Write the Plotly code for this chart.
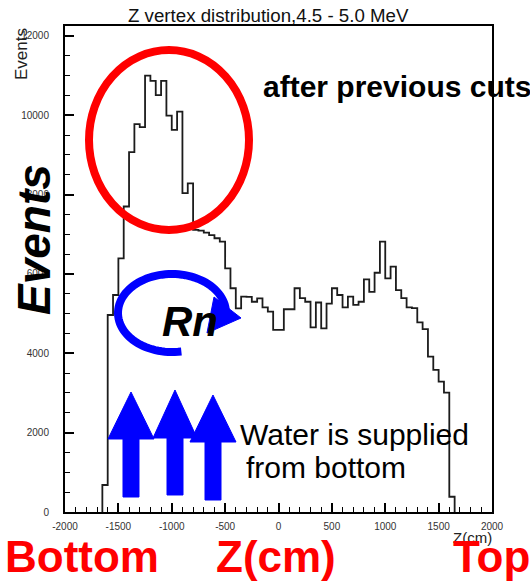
import numpy as np
import plotly.graph_objects as go

# Z vertex histogram, 4.5 - 5.0 MeV, 50 cm bins starting at z = -1650 cm
bin_start = -1650
bin_width = 50
counts = [680, 4965, 5470, 6395, 7700, 9070, 9775, 9700, 11000, 10865,
          10510, 10865, 9990, 9630, 10090, 8035, 8285, 7110, 7090, 7040,
          6980, 6900, 6815, 6140, 5640, 5135, 5430, 5420, 5300, 5385,
          5160, 5050, 4590, 4590, 5110, 5110, 5640, 5390, 5300, 4655,
          5280, 4630, 5250, 5640, 5470, 5160, 5430, 5220, 5300, 5865,
          5550, 6030, 6815, 5890, 6185, 5595, 5390, 5160, 5140, 4780,
          4610, 3915, 3580, 3285, 3010, 385]

x_ticks = [-2000, -1500, -1000, -500, 0, 500, 1000, 1500, 2000]
y_ticks = [0, 2000, 4000, 6000, 8000, 10000, 12000]

title_text = "Z vertex distribution,4.5 - 5.0 MeV"
x_title = "Z(cm)"
y_title = "Events"

# step outline of the histogram
edges = bin_start + bin_width * np.arange(len(counts) + 1)
hx = [edges[0]] + list(edges[:-1]) + [edges[-1], edges[-1]]
hy = [0] + counts + [counts[-1], 0]

W, H = 530, 582
L, R, T, B = 65, 492, 26, 512  # plot frame in pixels

def P(px, py):
    """pixel position -> paper coordinates"""
    return (px - L) / (R - L), (B - py) / (B - T)

def path(points, close=True):
    s = ""
    for i, (px, py) in enumerate(points):
        u, v = P(px, py)
        s += ("M" if i == 0 else "L") + f"{u:.5f},{v:.5f} "
    return s + ("Z" if close else "")

FONT = "Liberation Sans, Arial, Helvetica, sans-serif"

fig = go.Figure()
fig.add_trace(go.Scatter(
    x=hx, y=hy, mode="lines", line_shape="hv",
    line=dict(color="#1c1c1c", width=1.8), hoverinfo="skip", showlegend=False))

shapes = []
# red ellipse around the peak
x0, y0 = P(89, 230)
x1, y1 = P(249, 50)
shapes.append(dict(type="circle", xref="paper", yref="paper",
                   x0=x0, y0=y0, x1=x1, y1=y1,
                   line=dict(color="#ff0000", width=8), layer="above"))

# blue circulation arrow around "Rn"
cx, cy, rx, ry = 172, 313, 54, 39
t = np.radians(np.linspace(80, 358, 80))
arc = list(zip(cx + rx * np.cos(t), cy + ry * np.sin(t)))
shapes.append(dict(type="path", xref="paper", yref="paper", path=path(arc, close=False),
                   line=dict(color="#0000ff", width=8), layer="above"))
shapes.append(dict(type="path", xref="paper", yref="paper",
                   path=path([(214, 297), (241, 318), (207, 333)]),
                   fillcolor="#0000ff", line=dict(color="#0000ff", width=1), layer="above"))

# three upward arrows (water inflow)
for ax, ay, half_head, half_shaft, base_y, bot_y in [
        (131, 392, 23, 8, 439, 497),
        (175, 390, 22, 8, 438, 495),
        (213, 395, 23, 8, 442, 500)]:
    pts = [(ax, ay), (ax + half_head, base_y), (ax + half_shaft, base_y),
           (ax + half_shaft, bot_y), (ax - half_shaft, bot_y),
           (ax - half_shaft, base_y), (ax - half_head, base_y)]
    shapes.append(dict(type="path", xref="paper", yref="paper", path=path(pts),
                       fillcolor="#0000ff", line=dict(color="#0000ff", width=1),
                       layer="above"))

annotations = []

def note(text, px, py, size, color="black", xanchor="center", angle=0, yanchor="middle"):
    u, v = P(px, py)
    annotations.append(dict(text=text, x=u, y=v, xref="paper", yref="paper",
                            xanchor=xanchor, yanchor=yanchor, showarrow=False,
                            textangle=angle,
                            font=dict(family=FONT, size=size, color=color)))

note(title_text, 268, 15, 18.7, color="#111")
note(y_title, 22, 54, 17, color="#222", angle=-90)
note(x_title, 494, 537, 15, color="#222", xanchor="right")
note("<b>after previous cuts</b>", 261, 86, 30, xanchor="left")
note("<b><i>Events</i></b>", 34, 240, 46, angle=-90)
note("<b><i>Rn</i></b>", 190, 321, 42)
note("Water is supplied", 238, 434, 30, xanchor="left")
note("from bottom", 244, 467, 30, xanchor="left")
note("<b>Bottom</b>", 3, 556, 44, color="#ff0000", xanchor="left")
note("<b>Z(cm)</b>", 214, 556, 44, color="#ff0000", xanchor="left")
note("<b>Top</b>", 451, 556, 44, color="#ff0000", xanchor="left")

fig.update_layout(
    width=W, height=H,
    margin=dict(l=L, r=W - R, t=T, b=H - B, pad=0),
    paper_bgcolor="white", plot_bgcolor="white",
    shapes=shapes, annotations=annotations,
    font=dict(family=FONT),
    xaxis=dict(range=[-2000, 2000], tickmode="array", tickvals=x_ticks,
               ticktext=[str(v) for v in x_ticks],
               ticks="inside", ticklen=9, tickwidth=1.5, tickcolor="black",
               minor=dict(ticks="inside", ticklen=5, dtick=100, tick0=0,
                          tickwidth=1.2, tickcolor="black"),
               showline=True, linecolor="black", linewidth=2, mirror=True,
               showgrid=False, zeroline=False, ticklabelstandoff=4,
               tickfont=dict(family=FONT, size=10, color="#333")),
    yaxis=dict(range=[0, 12250], tickmode="array", tickvals=y_ticks,
               ticktext=[str(v) for v in y_ticks],
               ticks="inside", ticklen=9, tickwidth=1.5, tickcolor="black",
               minor=dict(ticks="inside", ticklen=5, dtick=500, tick0=0,
                          tickwidth=1.2, tickcolor="black"),
               showline=True, linecolor="black", linewidth=2, mirror=True,
               showgrid=False, zeroline=False, ticklabelstandoff=12,
               tickfont=dict(family=FONT, size=10, color="#333")),
)

fig.write_html("out.html")
